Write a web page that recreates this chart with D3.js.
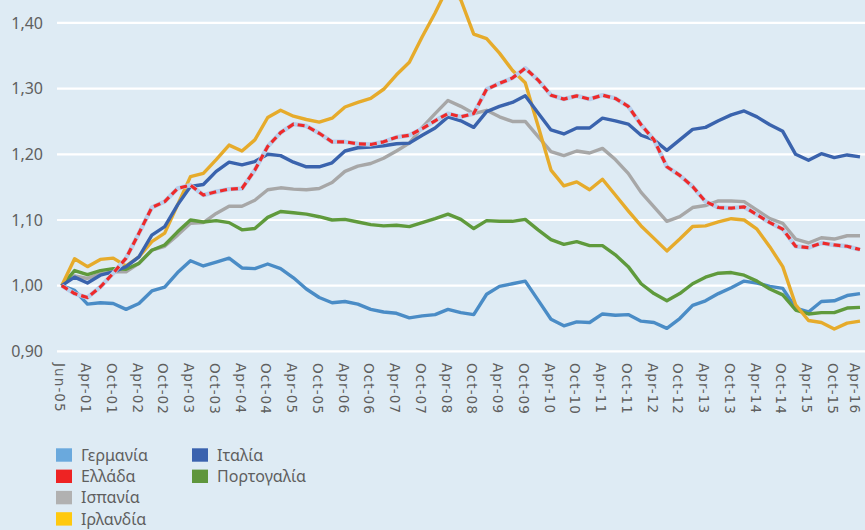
<!DOCTYPE html>
<html>
<head>
<meta charset="utf-8">
<script src="https://cdn.jsdelivr.net/npm/d3@7"></script>
<style>
html,body{margin:0;padding:0;background:#deebf4;}
svg{display:block;}
</style>
</head>
<body>
<svg id="chart" width="865" height="530"></svg>
<script>
const categories = ["Jun-05","Jan-01","Apr-01","Jul-01","Oct-01","Jan-02","Apr-02","Jul-02","Oct-02","Jan-03","Apr-03","Jul-03","Oct-03","Jan-04","Apr-04","Jul-04","Oct-04","Jan-05","Apr-05","Jul-05","Oct-05","Jan-06","Apr-06","Jul-06","Oct-06","Jan-07","Apr-07","Jul-07","Oct-07","Jan-08","Apr-08","Jul-08","Oct-08","Jan-09","Apr-09","Jul-09","Oct-09","Jan-10","Apr-10","Jul-10","Oct-10","Jan-11","Apr-11","Jul-11","Oct-11","Jan-12","Apr-12","Jul-12","Oct-12","Jan-13","Apr-13","Jul-13","Oct-13","Jan-14","Apr-14","Jul-14","Oct-14","Jan-15","Apr-15","Jul-15","Oct-15","Jan-16","Apr-16"];

const tickLabels = ["Jun-05","Apr-01","Oct-01","Apr-02","Oct-02","Apr-03","Oct-03","Apr-04","Oct-04","Apr-05","Oct-05","Apr-06","Oct-06","Apr-07","Oct-07","Apr-08","Oct-08","Apr-09","Oct-09","Apr-10","Oct-10","Apr-11","Oct-11","Apr-12","Oct-12","Apr-13","Oct-13","Apr-14","Oct-14","Apr-15","Oct-15","Apr-16"];

const yTicks = [0.90, 1.00, 1.10, 1.20, 1.30, 1.40];

const germany = [1.000,0.993,0.972,0.974,0.973,0.964,0.973,0.992,0.998,1.020,
1.038,1.030,1.036,1.042,1.027,1.026,1.033,1.026,1.012,0.995,
0.982,0.974,0.976,0.972,0.964,0.960,0.958,0.951,0.954,0.956,
0.964,0.959,0.956,0.987,0.999,1.003,1.007,0.978,0.949,0.939,
0.945,0.944,0.957,0.955,0.956,0.946,0.944,0.935,0.950,0.970,
0.977,0.988,0.997,1.007,1.004,0.999,0.996,0.966,0.960,0.976,
0.977,0.985,0.988];

const greece = [1.000,0.988,0.982,0.998,1.019,1.042,1.080,1.119,1.128,1.148,
1.153,1.138,1.143,1.147,1.148,1.176,1.212,1.233,1.246,1.243,
1.232,1.219,1.219,1.216,1.215,1.219,1.226,1.229,1.239,1.251,
1.262,1.257,1.262,1.299,1.308,1.316,1.331,1.313,1.290,1.284,
1.289,1.284,1.290,1.285,1.273,1.245,1.222,1.181,1.168,1.151,
1.128,1.119,1.118,1.120,1.108,1.096,1.086,1.060,1.058,1.065,
1.062,1.060,1.055];

const spain = [1.000,1.015,1.011,1.018,1.021,1.021,1.034,1.054,1.060,1.077,
1.095,1.096,1.110,1.121,1.121,1.130,1.146,1.149,1.147,1.146,
1.148,1.157,1.174,1.182,1.186,1.194,1.205,1.217,1.241,1.262,
1.282,1.273,1.262,1.267,1.257,1.250,1.250,1.227,1.204,1.198,
1.205,1.202,1.209,1.192,1.171,1.142,1.120,1.098,1.105,1.119,
1.122,1.129,1.129,1.128,1.115,1.102,1.095,1.071,1.065,1.073,
1.071,1.076,1.076];

const ireland = [1.000,1.041,1.029,1.040,1.042,1.030,1.044,1.067,1.080,1.123,
1.166,1.171,1.192,1.214,1.205,1.222,1.256,1.267,1.258,1.253,
1.249,1.255,1.272,1.279,1.285,1.299,1.321,1.340,1.379,1.415,
1.455,1.435,1.383,1.376,1.354,1.328,1.309,1.243,1.176,1.152,
1.158,1.146,1.162,1.138,1.114,1.091,1.072,1.053,1.071,1.090,
1.091,1.097,1.102,1.100,1.086,1.059,1.029,0.971,0.947,0.944,
0.934,0.943,0.946];

const italy = [1.000,1.013,1.004,1.016,1.021,1.029,1.044,1.077,1.090,1.123,
1.151,1.154,1.174,1.188,1.184,1.189,1.200,1.198,1.188,1.181,
1.181,1.187,1.205,1.210,1.211,1.213,1.216,1.217,1.229,1.240,
1.257,1.251,1.241,1.265,1.273,1.279,1.289,1.263,1.237,1.231,
1.240,1.240,1.255,1.251,1.246,1.229,1.222,1.206,1.222,1.238,
1.241,1.251,1.260,1.266,1.257,1.245,1.235,1.200,1.191,1.201,
1.195,1.199,1.196];

const portugal = [1.000,1.023,1.017,1.023,1.026,1.025,1.034,1.054,1.062,1.082,
1.100,1.097,1.099,1.096,1.085,1.087,1.104,1.113,1.111,1.109,
1.105,1.100,1.101,1.097,1.093,1.091,1.092,1.090,1.096,1.102,
1.109,1.101,1.087,1.099,1.098,1.098,1.101,1.085,1.070,1.063,
1.067,1.061,1.061,1.047,1.029,1.003,0.988,0.977,0.988,1.003,
1.013,1.019,1.020,1.016,1.007,0.995,0.986,0.963,0.957,0.959,
0.959,0.966,0.967];

const seriesNames = ["Γερμανία","Ελλάδα","Ισπανία","Ιρλανδία","Ιταλία","Πορτογαλία"];

const svg = d3.select("#chart");
const x = d3.scalePoint().domain(categories).range([61.7, 860]);
const y = d3.scaleLinear().domain([0.9, 1.5]).range([351.4, -42.8]);

// gridlines
svg.append("g").selectAll("line").data(yTicks).join("line")
  .attr("x1", 57).attr("x2", 865)
  .attr("y1", d => y(d)).attr("y2", d => y(d))
  .attr("stroke", "#ffffff").attr("stroke-width", 2.2);

// y labels
const fmt = d => d3.format(".2f")(d).replace(".", ",");
svg.append("g").selectAll("text").data(yTicks).join("text")
  .attr("x", 43).attr("y", d => y(d)).attr("dy", "0.36em")
  .attr("text-anchor", "end")
  .attr("font-family", "'Noto Sans', sans-serif").attr("font-size", 16)
  .attr("fill", "#5f5f5f")
  .text(fmt);

// x labels
svg.append("g").selectAll("text").data(tickLabels).join("text")
  .attr("transform", d => `translate(${Math.min(x(d), 856)},363) rotate(90)`)
  .attr("dy", "0.47em")
  .attr("text-anchor", "start")
  .attr("font-family", "'DejaVu Sans', sans-serif").attr("font-size", 13.5)
  .attr("letter-spacing", 1.1)
  .attr("fill", "#5f5f5f")
  .text(d => d);

const line = d3.line().x((d, i) => x(categories[i])).y(d => y(d));

const drawOrder = [
  {data: germany, color: "#4a8cc6"},
  {data: spain, color: "#a7a7a7"},
  {data: portugal, color: "#5f9a3c"},
  {data: ireland, color: "#e6ab2b"},
  {data: italy, color: "#3a63ad"}
];
const lines = svg.append("g");
drawOrder.forEach(s => {
  lines.append("path").datum(s.data)
    .attr("d", line).attr("fill", "none")
    .attr("stroke", s.color).attr("stroke-width", 3.4)
    .attr("stroke-linejoin", "round");
});
// Greece: light underlay + red dashes
lines.append("path").datum(greece)
  .attr("d", line).attr("fill", "none")
  .attr("stroke", "#b7cfec").attr("stroke-width", 4.4)
  .attr("stroke-linejoin", "round");
lines.append("path").datum(greece)
  .attr("d", line).attr("fill", "none")
  .attr("stroke", "#ee2a2a").attr("stroke-width", 3.2)
  .attr("stroke-dasharray", "7,4")
  .attr("stroke-linejoin", "round");

// legend
const legendColors = ["#6aa9dd","#ee2323","#b1b1b1","#ffc90e","#3a62ae","#5f963c"];
const legendPos = [
  {bx: 56, ty: 455}, {bx: 56, ty: 476.3}, {bx: 56, ty: 497.6}, {bx: 56, ty: 518.9},
  {bx: 192, ty: 455}, {bx: 192, ty: 476.3}
];
const lg = svg.append("g");
seriesNames.forEach((name, i) => {
  const p = legendPos[i];
  lg.append("rect").attr("x", p.bx).attr("y", p.ty - 6.7).attr("width", 16).attr("height", 13.4)
    .attr("fill", legendColors[i]);
  lg.append("text").attr("x", p.bx + 25).attr("y", p.ty).attr("dy", "0.36em")
    .attr("font-family", "'Noto Sans', sans-serif").attr("font-size", 16)
    .attr("fill", "#5f5f5f").text(name);
});
</script>
</body>
</html>
